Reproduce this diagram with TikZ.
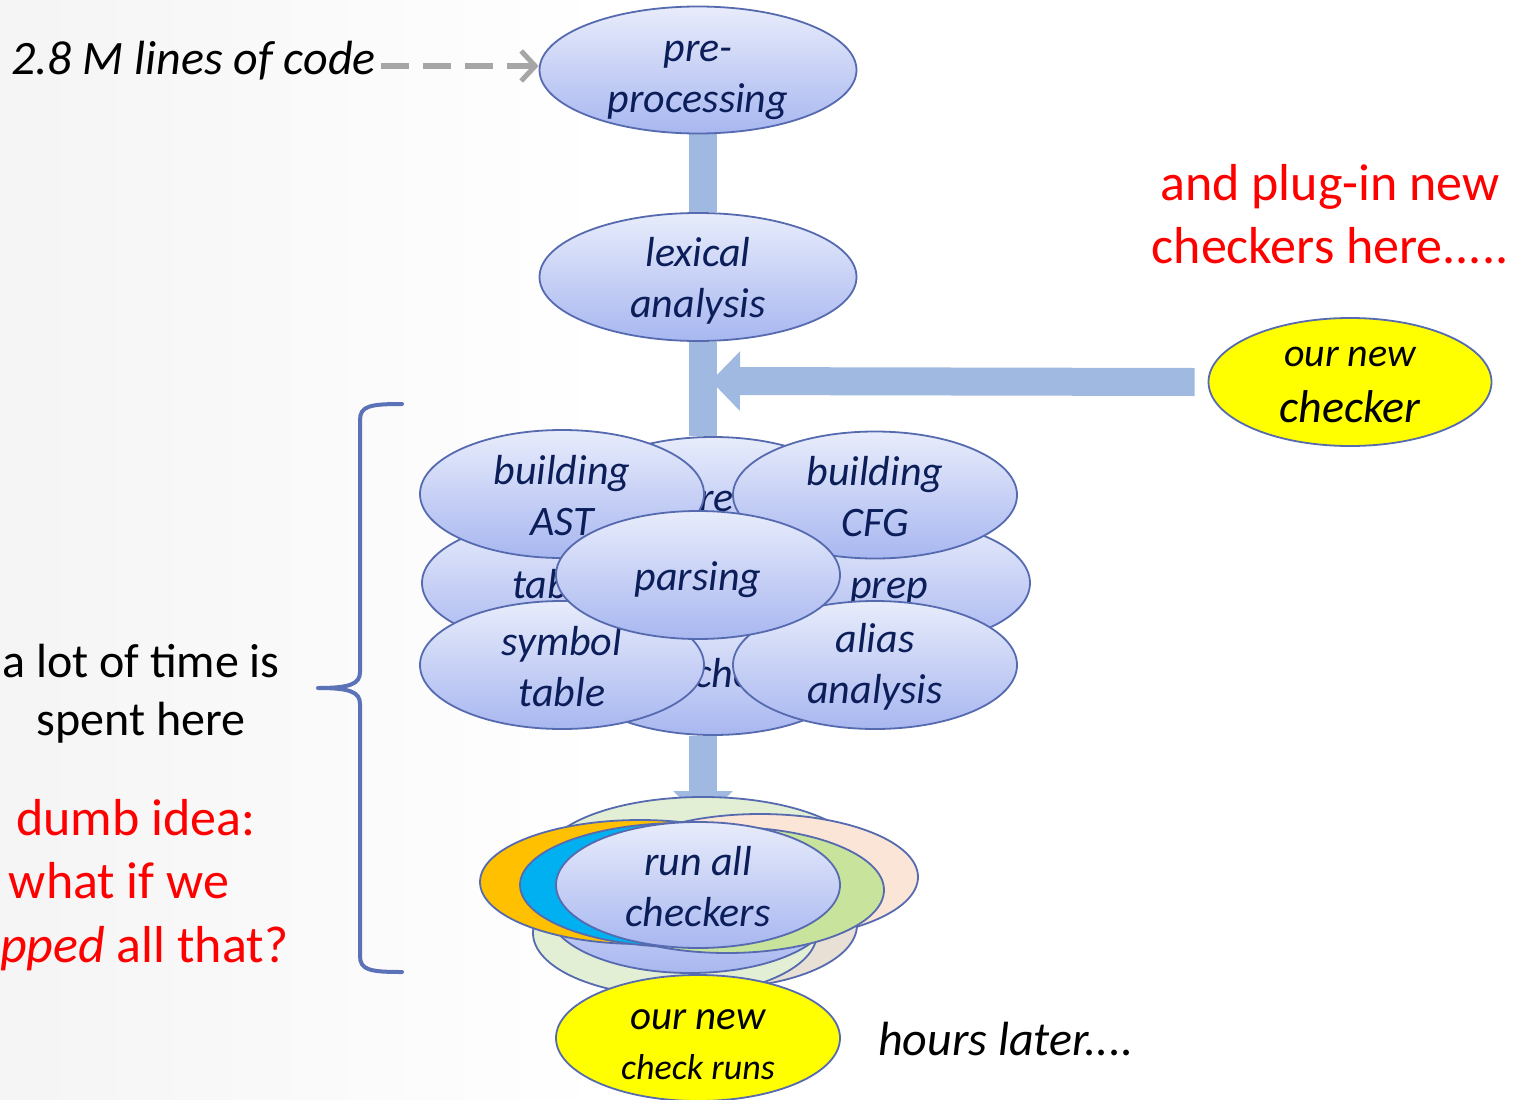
\documentclass[tikz,border=0pt]{standalone}
\usepackage{fontspec}
\setmainfont{Carlito}
\usetikzlibrary{shapes.geometric,arrows.meta}
\definecolor{lavtop}{RGB}{232,236,251}
\definecolor{lavbot}{RGB}{168,183,240}
\definecolor{edgec}{RGB}{86,106,176}
\definecolor{navy}{RGB}{12,30,90}
\definecolor{barc}{RGB}{160,185,224}
\definecolor{dgray}{RGB}{166,166,166}
\definecolor{yel}{RGB}{255,255,0}
\definecolor{redc}{RGB}{255,0,0}
\definecolor{orangec}{RGB}{255,192,0}
\definecolor{bluec}{RGB}{0,176,240}
\definecolor{greenc}{RGB}{200,227,155}
\definecolor{peachc}{RGB}{251,229,214}
\definecolor{lgreenc}{RGB}{226,239,212}
\definecolor{tanc}{RGB}{232,223,213}
\definecolor{bracec}{RGB}{92,114,184}
\definecolor{bgl}{RGB}{232,232,232}
\pgfdeclarehorizontalshading{bgshade}{100bp}{color(0bp)=(bgl); color(10bp)=(bgl!80!white); color(45bp)=(white); color(100bp)=(white)}
\pgfdeclarelayer{back}
\pgfdeclarelayer{bars}
\pgfsetlayers{back,bars,main}
\tikzset{
  ell/.style 2 args={minimum width=#1, minimum height=#2},
  lav/.style={ellipse, draw=edgec, line width=1.8pt, top color=lavtop, bottom color=lavbot, inner sep=0pt},
  flat/.style={ellipse, draw=edgec, line width=1.8pt, fill=#1, inner sep=0pt},
  lbl/.style={align=center, text=navy, font=\itshape\fontsize{42}{51}\selectfont, inner sep=0pt},
  ylbl/.style={align=center, text=black, font=\itshape\fontsize{42}{50}\selectfont, inner sep=0pt},
  frag/.style={anchor=base west, text=navy, font=\itshape\fontsize{42}{50}\selectfont, inner sep=0pt},
  fatbar/.style={draw=barc, line width=28pt},
  fathead/.style={-{Triangle[length=29pt,width=58pt]}},
  dasharrow/.style={draw=dgray, line width=6pt, dash pattern=on 28pt off 14pt, -{Straight Barb[length=14pt,width=30pt,line width=5pt]}},
  bracestyle/.style={draw=bracec, line width=4pt, line cap=round, line join=round},
  redtxt/.style={text=redc, font=\fontsize{52}{63}\selectfont, inner sep=0pt, align=center},
  blktxt/.style={text=black, font=\fontsize{48}{58}\selectfont, inner sep=0pt, align=center},
}
\begin{document}
\begin{tikzpicture}[x=1pt,y=-1pt]
\useasboundingbox (0,0) rectangle (1516,1100);
\begin{pgfonlayer}{back}
\shade[shading=bgshade] (0,0) rectangle (1516,1100);
\end{pgfonlayer}

% top pipeline
\node[lav, ell={317}{127}, label={[lbl,name=tpre,yshift=-10pt]center:{pre-\\processing}}] (pre) at (698,70) {};
\node[lav, ell={317}{128}, label={[lbl,name=tlex,yshift=-4pt]center:{lexical\\analysis}}] (lex) at (698,277) {};
\node[flat=yel, ell={283}{128}, label={[ylbl,name=tchk,yshift=-3pt]center:{{\fontsize{40}{48}\selectfont our new}\\[6pt]{\fontsize{46}{54}\selectfont checker}}}] (checker) at (1350,382) {};

% middle cluster
\node[lav, ell={284}{128}] (topC) at (713,501) {};
\node[frag] (fre) at (699,511) {re};
\node[lav, ell={284}{128}] (botC) at (713,671) {};
\node[frag] (fche) at (694,687) {che};
\node[lav, ell={284}{128}] (midL) at (564,583) {};
\node[frag] (ftab) at (512,598) {tab};
\node[lav, ell={284}{128}] (midR) at (888,583) {};
\node[frag] (fprep) at (850,598) {prep};
\node[lav, ell={284}{128}, label={[lbl,name=tast,yshift=-2pt]center:{building\\AST}}] (ast) at (562,494) {};
\node[lav, ell={284}{127}, label={[lbl,name=tcfg,yshift=-2pt]center:{building\\CFG}}] (cfg) at (875,495) {};
\node[lav, ell={284}{128}, label={[lbl,name=tsym,yshift=-2pt]center:{symbol\\table}}] (sym) at (562,665) {};
\node[lav, ell={284}{128}, label={[lbl,name=tali,yshift=-2pt]center:{alias\\analysis}}] (alias) at (875,665) {};
\node[lav, ell={284}{128}, label={[lbl,name=tpar,yshift=-5pt]center:{parsing}}] (pars) at (698,575) {};

% bottom cluster
\node[flat=lgreenc, ell={320}{126}] (e1) at (703,860) {};
\node[flat=peachc, ell={316}{126}] (e2) at (760,877) {};
\node[flat=tanc, ell={284}{126}] (etan) at (715,925) {};
\node[flat=lgreenc, ell={284}{126}] (egb) at (675,933) {};
\node[lav, ell={284}{126}] (e5) at (690,910) {};
\node[flat=orangec, ell={320}{124}] (eor) at (640,882) {};
\node[flat=bluec, ell={324}{124}] (ebl) at (682,885) {};
\node[flat=greenc, ell={314}{126}] (egr) at (727,890) {};
\node[lav, ell={284}{126}, label={[lbl,name=trun,yshift=-2pt]center:{run all\\checkers}}] (run) at (698,885) {};
\node[flat=yel, ell={284}{126}, label={[ylbl,name=truns,yshift=-7pt]center:{{\fontsize{41}{48}\selectfont our new}\\{\fontsize{36}{44}\selectfont check runs}}}] (runs) at (698,1038) {};

% bars and arrows
\coordinate (barx) at (703,0);
\coordinate (hstart) at ([xshift=-13pt]checker.west);
\coordinate (htip) at (711,381);
\coordinate (atip) at ([yshift=-24pt]e1.north -| barx);
\begin{pgfonlayer}{bars}
\draw[fatbar, fathead] (hstart) -- (htip);
\draw[fatbar] (pre.south -| barx) -- (lex.north -| barx);
\draw[fatbar] (lex.south -| barx) -- (topC.north -| barx);
\draw[fatbar, fathead] (botC.south -| barx) -- (atip);
\end{pgfonlayer}

% texts
\node[anchor=base east, inner sep=0pt, font=\itshape\fontsize{48}{56}\selectfont] (code) at (376,74) {2.8 M lines of code};
\coordinate (dstart) at (381,66);
\draw[dasharrow] (dstart) -- (dstart -| pre.west);

\node[redtxt] (plug) at (1330,214) {and plug-in new\\checkers here.....};
\node[blktxt] (alot) at (141,694) {a lot of time is\\spent here};
\node[redtxt, anchor=base] (dumb) at (136,835) {dumb idea:};
\node[redtxt, anchor=base] (whatif) at (119,898) {what if we};
\node[redtxt, anchor=base west] (skip) at (0,962) {\textit{pped} all that?};
\node[anchor=base west, inner sep=0pt, font=\itshape\fontsize{48}{56}\selectfont] (hours) at (878,1055) {hours later....};

% brace
\coordinate (brtop) at (402,404);
\coordinate (brbot) at (402,972);
\coordinate (brtip) at (318,688);
\draw[bracestyle] (brtop) .. controls (370,404) and (360,406) .. (360,420)
  -- (360,672) .. controls (360,684) and (350,688) .. (brtip)
  .. controls (350,688) and (360,692) .. (360,704)
  -- (360,956) .. controls (360,970) and (370,972) .. (brbot);
\end{tikzpicture}
\end{document}
